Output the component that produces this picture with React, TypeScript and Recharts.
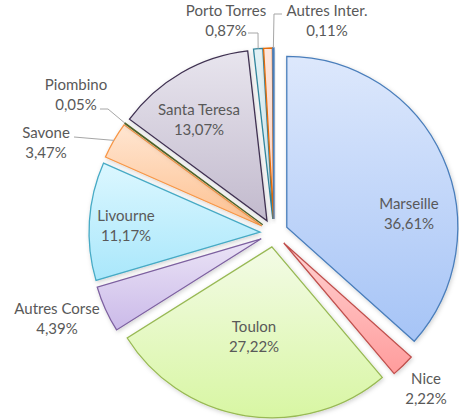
import React from "react";
import { PieChart, Pie, Sector } from "recharts";

// share of traffic by port, in %
const ports = [
  "Marseille",
  "Nice",
  "Toulon",
  "Autres Corse",
  "Livourne",
  "Savone",
  "Piombino",
  "Santa Teresa",
  "Porto Torres",
  "",
  "Autres Inter.",
];
const shares = [36.61, 2.22, 27.22, 4.39, 11.17, 3.47, 0.05, 13.07, 0.87, 0.82, 0.11];

const data = ports.map((name, i) => ({ name, value: shares[i] }));

// top -> bottom gradient and outline per slice
const palette = [
  { top: "#dde8fc", bottom: "#a6c4f6", line: "#4a7ebb" },
  { top: "#ffd3d3", bottom: "#ff9c9c", line: "#c0504d" },
  { top: "#f3fbe6", bottom: "#d8f6a3", line: "#98b954" },
  { top: "#ebe4f6", bottom: "#cbbae9", line: "#7d60a0" },
  { top: "#dcf7ff", bottom: "#a9e7fb", line: "#46aac5" },
  { top: "#ffe6d2", bottom: "#fdc08f", line: "#f79646" },
  { top: "#d7e4bd", bottom: "#9bbb59", line: "#4f6228" },
  { top: "#e8e5ee", bottom: "#c2bacd", line: "#3f3151" },
  { top: "#e2f1f5", bottom: "#cfe7ee", line: "#31859c" },
  { top: "#fee6dc", bottom: "#fcd3c2", line: "#e46c0a" },
  { top: "#dde8fc", bottom: "#a6c4f6", line: "#4a7ebb" },
];

const EXPLODE = 14;
const RAD = Math.PI / 180;

// label centre relative to the pie centre, optional leader elbow/end
const labelAt: Record<string, { dx: number; dy: number; leader?: [number, number][] }> = {
  Marseille: { dx: 135, dy: -19 },
  Nice: { dx: 152, dy: 156 },
  Toulon: { dx: -20, dy: 104 },
  "Autres Corse": { dx: -217, dy: 86 },
  Livourne: { dx: -148, dy: -7 },
  Savone: { dx: -228, dy: -90, leader: [[-200, -96]] },
  Piombino: { dx: -198, dy: -138, leader: [[-166, -124], [-174, -124]] },
  "Santa Teresa": { dx: -75, dy: -113 },
  "Porto Torres": { dx: -48, dy: -212, leader: [[-16, -200], [-26, -200]] },
  "Autres Inter.": { dx: 53, dy: -212, leader: [[0, -219], [8, -219]] },
};

const polar = (cx: number, cy: number, r: number, a: number) => ({
  x: cx + r * Math.cos(-a * RAD),
  y: cy + r * Math.sin(-a * RAD),
});

function ExplodedSlice(props: any) {
  const { cx, cy, midAngle, outerRadius, startAngle, endAngle, index, name, value } = props;
  const off = polar(0, 0, EXPLODE, midAngle);
  const sx = cx + off.x;
  const sy = cy + off.y;
  const pos = labelAt[name];
  let leader = null;
  if (pos && pos.leader) {
    const tip = polar(sx, sy, outerRadius, midAngle);
    const pts = [tip, ...pos.leader.map(([x, y]) => ({ x: cx + x, y: cy + y }))];
    leader = (
      <polyline
        points={pts.map((p) => `${p.x},${p.y}`).join(" ")}
        fill="none"
        stroke="#a6a6a6"
        strokeWidth={1}
      />
    );
  }
  return (
    <g>
      <Sector
        cx={sx}
        cy={sy}
        innerRadius={0}
        outerRadius={outerRadius}
        startAngle={startAngle}
        endAngle={endAngle}
        fill={`url(#grad${index})`}
        stroke={palette[index].line}
        strokeWidth={1.3}
        filter="url(#shadow)"
      />
      {leader}
      {pos && (
        <text
          x={cx + pos.dx}
          y={cy + pos.dy}
          textAnchor="middle"
          fill="#595959"
          fontSize={15}
          fontFamily="Lato, 'Noto Sans', sans-serif"
        >
          <tspan x={cx + pos.dx} dy={-5}>
            {name}
          </tspan>
          <tspan x={cx + pos.dx} dy={20}>
            {value.toFixed(2).replace(".", ",")}%
          </tspan>
        </text>
      )}
    </g>
  );
}

export default function App() {
  return (
    <div style={{ position: "absolute", left: 0, top: 0, width: 459, height: 420, background: "#fff" }}>
      <PieChart width={459} height={420} margin={{ top: 0, right: 0, bottom: 0, left: 0 }}>
        <defs>
          {palette.map((c, i) => (
            <linearGradient key={i} id={`grad${i}`} x1="0" y1="0" x2="0" y2="1">
              <stop offset="0%" stopColor={c.top} />
              <stop offset="100%" stopColor={c.bottom} />
            </linearGradient>
          ))}
          <filter id="shadow" x="-20%" y="-20%" width="140%" height="140%">
            <feDropShadow dx="1" dy="1.5" stdDeviation="2" floodColor="#000" floodOpacity="0.18" />
          </filter>
        </defs>
        <Pie
          data={data}
          dataKey="value"
          nameKey="name"
          cx={274}
          cy={233}
          outerRadius={171}
          startAngle={90}
          endAngle={-270}
          fill="transparent"
          stroke="none"
          labelLine={false}
          label={ExplodedSlice}
          isAnimationActive={false}
        />
      </PieChart>
    </div>
  );
}
